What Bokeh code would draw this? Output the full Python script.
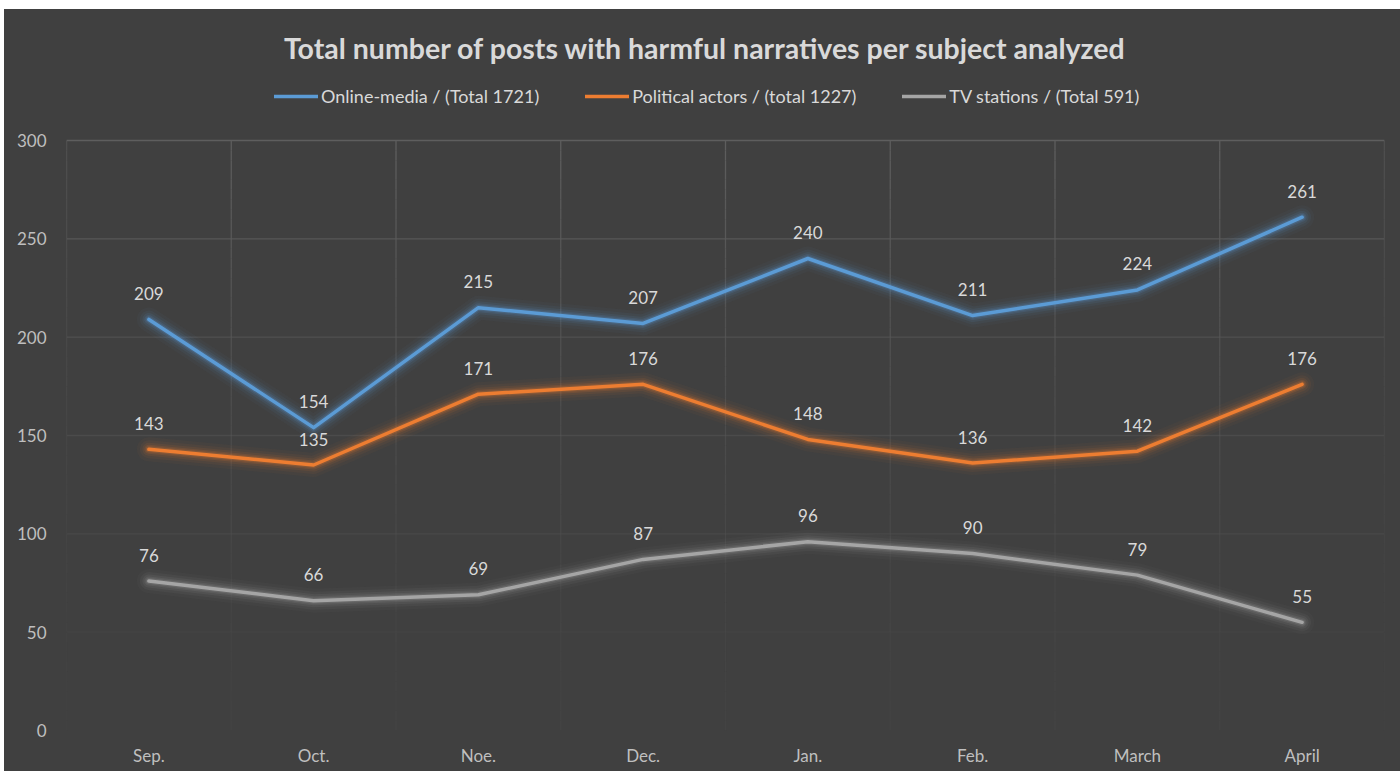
from bokeh.plotting import figure
from bokeh.models import Range1d, FixedTicker, Legend, LegendItem, ColumnDataSource, Label
from bokeh.core.properties import value
from bokeh.embed import file_html
from bokeh.resources import INLINE

# Monthly counts of posts with harmful narratives, per subject
months = ["Sep.", "Oct.", "Noe.", "Dec.", "Jan.", "Feb.", "March", "April"]
online_media = [209, 154, 215, 207, 240, 211, 224, 261]
political_actors = [143, 135, 171, 176, 148, 136, 142, 176]
tv_stations = [76, 66, 69, 87, 96, 90, 79, 55]
series_names = [
    "Online-media / (Total 1721)",
    "Political actors / (total 1227)",
    "TV stations / (Total 591)",
]
y_ticks = [0, 50, 100, 150, 200, 250, 300]
title_text = "Total number of posts with harmful narratives per subject analyzed"

BG = "#404040"
GRID = "#5e5e5e"
FONT = "Lato"
COLORS = ["#5b9bd5", "#ed7d31", "#a5a5a5"]

# canvas geometry (pixels)
W, H = 1396, 762
LEFT, RIGHT, BOTTOM = 62, 16, 41
HEADER = 131            # room above the 300 line for title and legend
Y_MAX = 300
frame_h = H - BOTTOM
plot_h = frame_h - HEADER
plot_w = W - LEFT - RIGHT
px_y = Y_MAX / plot_h   # data units per pixel, vertical
px_x = len(months) / plot_w
y_top = Y_MAX + HEADER * px_y

p = figure(
    width=W, height=H,
    x_range=Range1d(0, len(months)), y_range=Range1d(0, y_top),
    output_backend="svg", toolbar_location=None,
    min_border_left=LEFT, min_border_right=RIGHT, min_border_top=0, min_border_bottom=BOTTOM,
    background_fill_color=BG, border_fill_color=BG, outline_line_color=None,
    margin=(9, 0, 0, 4),
    styles={"background-color": BG},
)
p.xgrid.visible = False
p.ygrid.visible = False

# Grid lines that fade out towards the bottom of the plot
def grid_alpha(y):
    return 0.1 + 0.9 * (y / Y_MAX) ** 1.6

step = 5
vx0, vy0, vx1, vy1, va = [], [], [], [], []
for b in range(len(months) + 1):
    for y in range(0, Y_MAX, step):
        vx0.append(b); vx1.append(b)
        vy0.append(y); vy1.append(y + step)
        va.append(grid_alpha(y + step / 2))
for t in y_ticks[1:]:
    vx0.append(0); vx1.append(len(months))
    vy0.append(t); vy1.append(t)
    va.append(grid_alpha(t))
p.segment(x0="x0", y0="y0", x1="x1", y1="y1", line_alpha="a", line_color=GRID, line_width=1.3,
          source=ColumnDataSource(dict(x0=vx0, y0=vy0, x1=vx1, y1=vy1, a=va)))

xs = [i + 0.5 for i in range(len(months))]
series = [online_media, political_actors, tv_stations]

legend_items = []
for vals, color, name in zip(series, COLORS, series_names):
    # soft glow underneath each line
    for w, a in [(24, 0.04), (18, 0.06), (13, 0.09), (9, 0.13), (6, 0.2)]:
        p.line(xs, vals, line_width=w, line_alpha=a, line_color=color,
               line_join="round", line_cap="round")
    r = p.line(xs, vals, line_width=3.5, line_color=color, line_join="round", line_cap="round")
    legend_items.append(LegendItem(label=name, renderers=[r]))
    p.text(xs, vals, text=[str(v) for v in vals], text_align="center", text_baseline="middle",
           y_offset=-26, text_font=value(FONT), text_font_size="17px", text_color="#d9d9d9")

# axes
p.yaxis.ticker = FixedTicker(ticks=y_ticks)
p.xaxis.ticker = FixedTicker(ticks=xs)
p.xaxis.major_label_overrides = {x: m for x, m in zip(xs, months)}
p.axis.axis_line_color = None
p.axis.major_tick_line_color = None
p.axis.minor_tick_line_color = None
p.axis.major_label_text_color = "#bfbfbf"
p.axis.major_label_text_font = FONT
p.axis.major_label_text_font_size = "17px"
p.yaxis.major_label_standoff = 14
p.xaxis.major_label_standoff = 8

# title, centred slightly left of the plot middle
p.add_layout(Label(x=639 * px_x, y=y_top - 38 * px_y, text=title_text,
                   text_align="center", text_baseline="middle",
                   text_font=FONT, text_font_style="bold", text_font_size="28.5px",
                   text_color="#d9d9d9"))

legend = Legend(items=legend_items, orientation="horizontal", location=(208, frame_h - 98),
                glyph_width=44, glyph_height=20, label_standoff=3, spacing=46, padding=0,
                margin=0, border_line_color=None, background_fill_alpha=0,
                label_text_font=FONT, label_text_font_size="18px", label_text_color="#d9d9d9")
p.add_layout(legend, "center")

open("out.html", "w").write(file_html(p, INLINE))
